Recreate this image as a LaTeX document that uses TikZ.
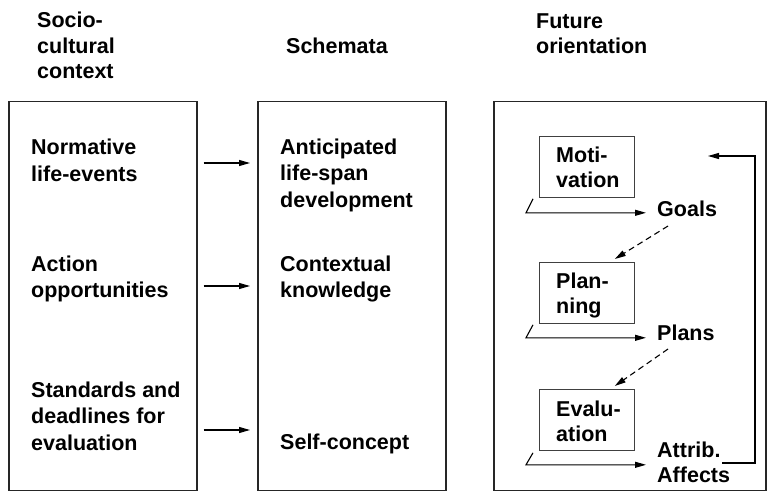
\documentclass[tikz,border=0pt]{standalone}
\usepackage{fontspec}
\setmainfont{Liberation Sans}[BoldFont={Liberation Sans Bold}]
\usetikzlibrary{arrows.meta,calc}
\begin{document}
\begin{tikzpicture}[x=1pt,y=-1pt,
  txt/.style={font=\fontsize{21.5}{26.5}\selectfont\bfseries, align=left, anchor=base west, inner sep=0pt},
  hdr/.style={txt, font=\fontsize{21.5}{25.5}\selectfont\bfseries},
  btxt/.style={txt, font=\fontsize{21.5}{25}\selectfont\bfseries},
  panel/.style={draw=black!85, line width=1.5pt, anchor=north west, inner sep=0pt},
  sbox/.style={draw=black!75, line width=0.8pt, anchor=north west, inner sep=0pt, minimum width=95pt, minimum height=61pt},
  arr/.style={-{Triangle[length=11pt,width=6pt]}, line width=1.1pt},
  darr/.style={arr, dash pattern=on 6pt off 4pt}
]
\useasboundingbox (0,0) rectangle (767,492);

% headers (anchor = baseline of last line)
\node[hdr] (h1) at (37,79) {Socio-\\cultural\\context};
\node[hdr] (h2) at (286,54) {Schemata};
\node[hdr] (h3) at (536,54) {Future\\orientation};

% panels
\node[panel, minimum width=188pt, minimum height=388.5pt] (ctx) at (8,101) {};
\node[panel, minimum width=188pt, minimum height=388.5pt] (sch) at (257,101) {};
\node[panel, minimum width=272pt, minimum height=388.5pt] (fut) at (493,101) {};

% left column
\node[txt] (norm) at (31,181) {Normative\\life-events};
\node[txt] (act) at (31,297.5) {Action\\opportunities};
\node[txt] (std) at (31,450) {Standards and\\deadlines for\\evaluation};

% middle column
\node[txt] (ant) at (280,207) {Anticipated\\life-span\\development};
\node[txt] (ctxk) at (280,297.5) {Contextual\\knowledge};
\node[txt] (self) at (280,449) {Self-concept};

% arrows between panels
\coordinate (a1s) at ($(ctx.east |- 0,163)+(6,0)$);
\coordinate (a1e) at ($(sch.west |- 0,163)+(-7,0)$);
\coordinate (a2s) at ($(ctx.east |- 0,286)+(6,0)$);
\coordinate (a2e) at ($(sch.west |- 0,286)+(-7,0)$);
\coordinate (a3s) at ($(ctx.east |- 0,430)+(6,0)$);
\coordinate (a3e) at ($(sch.west |- 0,430)+(-7,0)$);
\draw[arr] (a1s) -- (a1e);
\draw[arr] (a2s) -- (a2e);
\draw[arr] (a3s) -- (a3e);

% future orientation boxes
\node[sbox] (mot) at (539,136) {};
\node[sbox] (plan) at (539,262) {};
\node[sbox] (eval) at (539,389) {};
\node[btxt] (motT) at ($(mot.north west)+(17,51)$) {Moti-\\vation};
\node[btxt] (planT) at ($(plan.north west)+(17,51)$) {Plan-\\ning};
\node[btxt] (evalT) at ($(eval.north west)+(17,52)$) {Evalu-\\ation};

\node[txt] (goals) at (657,216) {Goals};
\node[txt] (plans) at (657,340) {Plans};
\node[btxt] (attr) at (657,482) {Attrib.\\Affects};

% tick arrows
\coordinate (t1) at ($(mot.south west)+(-6,1)$);
\coordinate (b1) at ($(mot.south west)+(-13,15)$);
\draw[arr, shorten >=11pt] (t1) -- (b1) -- (b1 -| goals.west);
\coordinate (t2) at ($(plan.south west)+(-6,1)$);
\coordinate (b2) at ($(plan.south west)+(-13,14)$);
\draw[arr, shorten >=11pt] (t2) -- (b2) -- (b2 -| plans.west);
\coordinate (t3) at ($(eval.south west)+(-6,2)$);
\coordinate (b3) at ($(eval.south west)+(-13,14)$);
\draw[arr, shorten >=11pt] (t3) -- (b3) -- (b3 -| attr.west);

% dashed arrows
\draw[darr] ($(goals.base west)+(11,10)$) -- ($(plan.north east)+(-20,-3)$);
\draw[darr] ($(plans.base west)+(11,9)$) -- ($(eval.north east)+(-20,-3)$);

% feedback
\coordinate (fb1) at ($(attr.base west)+(65,-19)$);
\coordinate (fbc) at (755,156);
\coordinate (fbe) at (708,156);
\draw[arr] (fb1) -- (fb1 -| fbc) -- (fbc) -- (fbe);
\end{tikzpicture}
\end{document}
